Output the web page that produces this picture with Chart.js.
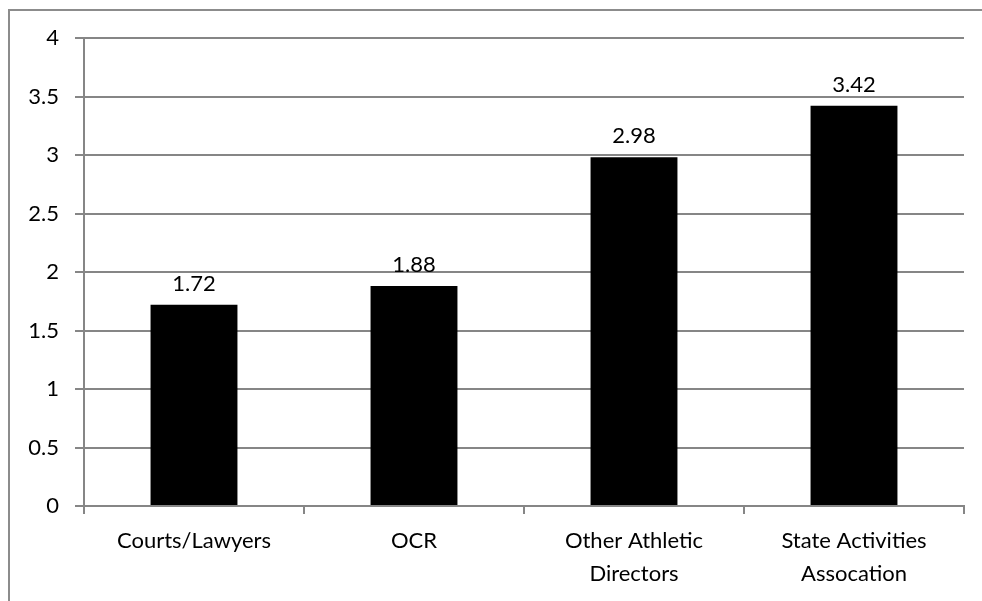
<!DOCTYPE html>
<html>
<head>
<meta charset="utf-8">
<script src="https://cdn.jsdelivr.net/npm/chart.js@4"></script>
<style>
    body { margin: 0; background: #fff; }
    #frame {
        position: absolute;
        left: 8px;
        top: 9px;
        width: 1000px;
        height: 620px;
        border: 2px solid #8c8c8c;
    }
    #wrap { position: absolute; left: 0; top: 0; width: 982px; height: 601px; }
</style>
</head>
<body>
<div id="frame"></div>
<div id="wrap"><canvas id="chart"></canvas></div>
<script>
const categories = ['Courts/Lawyers', 'OCR', ['Other Athletic', 'Directors'], ['State Activities', 'Assocation']];
const values = [1.72, 1.88, 2.98, 3.42];
const yTicks = [0, 0.5, 1, 1.5, 2, 2.5, 3, 3.5, 4];

const gridColor = '#868686';
const fontFamily = 'Lato, "Open Sans", sans-serif';

const valueLabels = {
    id: 'valueLabels',
    afterDatasetsDraw(chart) {
        const ctx = chart.ctx;
        const meta = chart.getDatasetMeta(0);
        ctx.save();
        ctx.font = '22px ' + fontFamily;
        ctx.fillStyle = '#000';
        ctx.textAlign = 'center';
        ctx.textBaseline = 'bottom';
        meta.data.forEach((bar, i) => {
            ctx.fillText(values[i].toFixed(2), bar.x, bar.y - 10);
        });
        ctx.restore();
    },
};

new Chart(document.getElementById('chart').getContext('2d'), {
    type: 'bar',
    data: {
        labels: categories,
        datasets: [
            {
                data: values,
                backgroundColor: '#000000',
                barPercentage: 0.395,
                categoryPercentage: 1,
            },
        ],
    },
    options: {
        responsive: true,
        maintainAspectRatio: false,
        animation: false,
        layout: {
            padding: { top: 38, right: 18, left: 0, bottom: 0 },
        },
        plugins: {
            legend: { display: false },
            tooltip: { enabled: false },
        },
        scales: {
            x: {
                grid: {
                    drawOnChartArea: false,
                    color: gridColor,
                    lineWidth: 2,
                    tickLength: 8,
                    offset: true,
                },
                border: { color: gridColor, width: 2 },
                ticks: {
                    color: '#000',
                    font: { family: fontFamily, size: 22, lineHeight: 1.5 },
                    padding: 10,
                    maxRotation: 0,
                    autoSkip: false,
                },
                afterFit(axis) {
                    axis.height = 95;
                },
            },
            y: {
                min: 0,
                max: 4,
                afterBuildTicks(axis) {
                    axis.ticks = yTicks.map((v) => ({ value: v }));
                },
                grid: {
                    color: gridColor,
                    lineWidth: 2,
                    tickLength: 9,
                },
                border: { color: gridColor, width: 2 },
                ticks: {
                    color: '#000',
                    font: { family: fontFamily, size: 22 },
                    padding: 16,
                    callback: (v) => String(v),
                },
                afterFit(axis) {
                    axis.width = 84;
                },
            },
        },
    },
    plugins: [valueLabels],
});
</script>
</body>
</html>
